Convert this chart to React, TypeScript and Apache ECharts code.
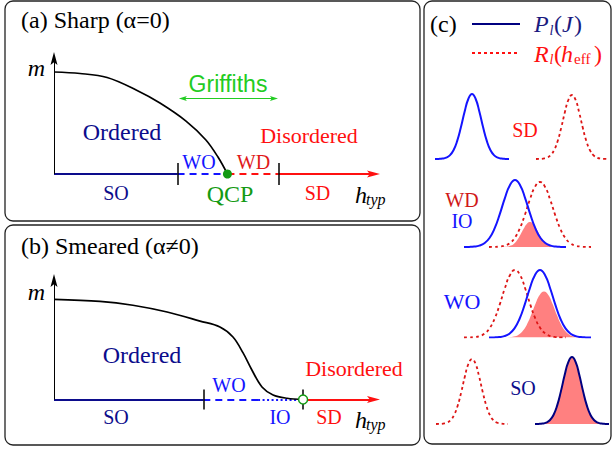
import React, { useEffect, useRef } from 'react';
import * as echarts from 'echarts';

// ---------- Data ----------
// Panel (a) sharp transition: order parameter m versus h_typ
const A_H = [0, 0.8, 1.63, 2.52, 3.25, 4.05, 4.66, 5.03, 5.32];
const A_M = [0.836, 0.824, 0.791, 0.689, 0.582, 0.434, 0.279, 0.139, 0];
const A_BOUNDS = [3.79, 5.32, 6.88]; // SO|WO tick, QCP, WD|SD tick
const A_GRIFFITHS = [3.83, 6.87];

// Panel (b) smeared transition
const B_H = [0, 1.41, 2.42, 3.47, 4.48, 5.09, 5.49, 5.8, 6.07, 6.38, 6.72, 7.15, 7.64];
const B_M = [0.798, 0.782, 0.751, 0.697, 0.625, 0.578, 0.498, 0.371, 0.235, 0.1, 0.036, 0.01, 0];
const B_BOUNDS = [4.58, 6.26, 7.64]; // SO|WO tick, dashed->dotted, IO|SD point

// Axis extents (arrow tips)
const H_MAX = 10;
const M_MAX = 1;

// Panel (c) distributions (shape, peak normalised to 1)
const PROFILE = [0.0003, 0.0015, 0.006, 0.02, 0.056, 0.135, 0.278, 0.487, 0.726, 0.923, 1,
  0.923, 0.726, 0.487, 0.278, 0.135, 0.056, 0.02, 0.006, 0.0015, 0.0003];
const C_ROWS = ['SD', 'WD/IO', 'WO', 'SO'];
const P_CENTER = [48, 91, 116, 148];
const P_HALF = [37, 51, 51, 37];
const P_PEAK = [65, 67, 67.5, 67];
const R_CENTER = [148, 116, 91, 48];
const R_HALF = [36, 51, 51, 36];
const R_PEAK = [64, 65, 67.5, 65];
const F_CENTER = [0, 106, 120, 148];
const F_HALF = [0, 32, 43, 37];
const F_PEAK = [0, 25, 46, 67];

// ---------- Styles / layout ----------
const SERIF = "'Liberation Serif', 'Times New Roman', serif";
const SANS = "'Liberation Sans', Arial, sans-serif";
const NAVY = '#0c0c8c';
const BLUE = '#1414ff';
const RED = '#ff1010';
const DRED = '#d01818';
const GREEN_L = '#22cc22';
const GREEN = '#139a13';
const FILL = '#ff8080';
const RDOT = '#dd1515';
const ROW_BASE = [159, 247, 337.5, 424];
const ARROW = 'path://M0,-7 L3.5,6 L0,3.2 L-3.5,6 Z';

function T(text: string, x: number, y: number, size: number, color: string, o: any = {}) {
  return {
    type: 'text', x, y, z: 20,
    style: {
      text, fontSize: size, fontFamily: o.font || SERIF, fill: color,
      align: o.align || 'center', verticalAlign: 'middle',
      fontStyle: o.italic ? 'italic' : 'normal',
    },
  };
}

function curve(i: number, c: number[], h: number[], p: number[]) {
  return PROFILE.map((v, k) => [c[i] + (h[i] * (k - 10)) / 10, p[i] * v]);
}

// arrow head (tip at point). dir: 'up' | 'right' | 'left'
function head(ai: number, x: number, y: number, dir: string, color: string, w: number, l: number) {
  const rot = dir === 'up' ? 0 : dir === 'right' ? -90 : 90;
  const off = dir === 'up' ? [0, l / 2] : dir === 'right' ? [-l / 2, 0] : [l / 2, 0];
  return {
    type: 'scatter', xAxisIndex: ai, yAxisIndex: ai, z: 12, silent: true,
    symbol: ARROW, symbolSize: [w, l], symbolRotate: rot, symbolOffset: off,
    itemStyle: { color, opacity: 1 }, data: [[x, y]],
  };
}

function buildOption() {
  const grids: any[] = [
    { left: 54, top: 52, width: 326, height: 146.4 },
    { left: 54, top: 274, width: 326, height: 150.6 },
  ];
  const xAxes: any[] = [
    { gridIndex: 0, type: 'value', min: 0, max: H_MAX, show: false },
    { gridIndex: 1, type: 'value', min: 0, max: H_MAX, show: false },
  ];
  const yAxes: any[] = [
    { gridIndex: 0, type: 'value', min: -0.2, max: M_MAX, show: false },
    { gridIndex: 1, type: 'value', min: -0.2, max: M_MAX, show: false },
  ];
  ROW_BASE.forEach((b, i) => {
    grids.push({ left: 424, top: b - 75, width: 189, height: 75 });
    xAxes.push({ gridIndex: i + 2, type: 'value', min: 0, max: 189, show: false });
    yAxes.push({ gridIndex: i + 2, type: 'value', min: 0, max: 75, show: false });
  });

  const series: any[] = [];
  const seg = (x1: number, y1: number, x2: number, y2: number, color: string, type: any = 'solid', width = 2) => ({
    coords: [[x1, y1], [x2, y2]], lineStyle: { color, type, width },
  });
  const segs = (ai: number, data: any[]) => ({
    type: 'lines', coordinateSystem: 'cartesian2d', xAxisIndex: ai, yAxisIndex: ai, z: 3,
    silent: true, lineStyle: { opacity: 1 }, data,
  });

  // ---- panel (a)
  series.push(segs(0, [
    seg(0, 0, A_BOUNDS[0], 0, NAVY),
    seg(A_BOUNDS[0], 0, A_BOUNDS[1], 0, BLUE, [7, 5]),
    seg(A_BOUNDS[1], 0, A_BOUNDS[2], 0, RED, [7, 5]),
    seg(A_BOUNDS[2], 0, H_MAX - 0.2, 0, RED),
    seg(0, 0, 0, M_MAX - 0.05, '#000'),
    seg(A_BOUNDS[0], -0.09, A_BOUNDS[0], 0.09, '#000', 'solid', 1.5),
    seg(A_BOUNDS[2], -0.09, A_BOUNDS[2], 0.09, '#000', 'solid', 1.5),
    seg(A_GRIFFITHS[0] + 0.15, 0.619, A_GRIFFITHS[1] - 0.15, 0.619, GREEN_L, 'solid', 1),
  ]));
  series.push(head(0, H_MAX, 0, 'right', RED, 7, 13));
  series.push(head(0, 0, M_MAX, 'up', '#000', 7, 13));
  series.push(head(0, A_GRIFFITHS[0], 0.619, 'left', GREEN_L, 5, 8));
  series.push(head(0, A_GRIFFITHS[1], 0.619, 'right', GREEN_L, 5, 8));
  series.push({
    type: 'line', xAxisIndex: 0, yAxisIndex: 0, data: A_H.map((h, i) => [h, A_M[i]]),
    smooth: 0.35, showSymbol: false, lineStyle: { color: '#000', width: 1.7 }, z: 5,
  });
  series.push({
    type: 'scatter', xAxisIndex: 0, yAxisIndex: 0, data: [[A_BOUNDS[1], 0]], symbolSize: 9,
    itemStyle: { color: GREEN, opacity: 1 }, z: 10,
  });

  // ---- panel (b)
  series.push(segs(1, [
    seg(0, 0, B_BOUNDS[0], 0, NAVY),
    seg(B_BOUNDS[0], 0, B_BOUNDS[1], 0, BLUE, [7, 5]),
    seg(B_BOUNDS[1], 0, B_BOUNDS[2], 0, BLUE, [2, 2.5]),
    seg(B_BOUNDS[2], 0, H_MAX - 0.2, 0, RED),
    seg(0, 0, 0, M_MAX - 0.05, '#000'),
    seg(B_BOUNDS[0], -0.08, B_BOUNDS[0], 0.08, '#000', 'solid', 1.5),
    seg(B_BOUNDS[2], -0.08, B_BOUNDS[2], 0.08, '#000', 'solid', 1.5),
  ]));
  series.push(head(1, H_MAX, 0, 'right', RED, 7, 13));
  series.push(head(1, 0, M_MAX, 'up', '#000', 7, 13));
  series.push({
    type: 'line', xAxisIndex: 1, yAxisIndex: 1, data: B_H.map((h, i) => [h, B_M[i]]),
    smooth: 0.35, showSymbol: false, lineStyle: { color: '#000', width: 1.7 }, z: 5,
  });
  series.push({
    type: 'scatter', xAxisIndex: 1, yAxisIndex: 1, data: [[B_BOUNDS[2], 0]], symbolSize: 9,
    itemStyle: { color: '#fff', borderColor: GREEN, borderWidth: 1.5, opacity: 1 }, z: 10,
  });

  // ---- panel (c)
  C_ROWS.forEach((row, i) => {
    const ai = i + 2;
    if (F_PEAK[i] > 0) {
      series.push({
        name: row + ' overlap', type: 'line', xAxisIndex: ai, yAxisIndex: ai,
        data: curve(i, F_CENTER, F_HALF, F_PEAK), smooth: true, showSymbol: false,
        lineStyle: { width: 0 }, areaStyle: { color: FILL, opacity: 1 }, z: 2,
      });
    }
    series.push({
      name: row + ' R', type: 'line', xAxisIndex: ai, yAxisIndex: ai,
      data: curve(i, R_CENTER, R_HALF, R_PEAK), smooth: true, showSymbol: false,
      lineStyle: { color: RDOT, width: 1.8, type: [3, 3] }, z: 3,
    });
    series.push({
      name: row + ' P', type: 'line', xAxisIndex: ai, yAxisIndex: ai,
      data: curve(i, P_CENTER, P_HALF, P_PEAK), smooth: true, showSymbol: false,
      lineStyle: { color: i === 3 ? '#000080' : BLUE, width: 2 }, z: 4,
    });
  });

  const border = (x: number, y: number, w: number, h: number) => ({
    type: 'rect', z: 1, shape: { x, y, width: w, height: h, r: 8 },
    style: { fill: 'none', stroke: '#222', lineWidth: 1.3 },
  });

  const graphic: any[] = [
    border(5, 1, 415, 220),
    border(5, 225, 415, 220),
    border(424, 1, 187, 443),
    // panel (a)
    T('(a) Sharp (α=0)', 21, 20, 24, '#000', { align: 'left' }),
    T('m', 36.5, 68, 24, '#000', { italic: true }),
    T('Griffiths', 228, 84, 23, GREEN_L, { font: SANS }),
    T('Ordered', 122, 132, 24, NAVY),
    T('Disordered', 309, 135, 22, RED),
    T('WO', 199, 162, 20, BLUE),
    T('WD', 253.5, 162, 20, '#e01a1a'),
    T('SO', 116, 193, 20, NAVY),
    T('QCP', 230, 194, 24, GREEN),
    T('SD', 317.5, 193, 20, RED),
    T('h', 355, 194.5, 24, '#000', { align: 'left', italic: true }),
    T('typ', 366, 199, 16, '#000', { align: 'left', italic: true }),
    // panel (b)
    T('(b) Smeared (α≠0)', 21, 246, 24, '#000', { align: 'left' }),
    T('m', 36.5, 292, 24, '#000', { italic: true }),
    T('Ordered', 142, 355, 24, NAVY),
    T('Disordered', 354, 368, 22, RED),
    T('WO', 229, 385, 20, BLUE),
    T('SO', 116, 417, 20, NAVY),
    T('IO', 280, 417, 20, BLUE),
    T('SD', 329, 417, 20, RED),
    T('h', 355, 420, 24, '#000', { align: 'left', italic: true }),
    T('typ', 366, 424, 16, '#000', { align: 'left', italic: true }),
    // panel (c)
    T('(c)', 430, 24, 24, '#000', { align: 'left' }),
    { type: 'line', z: 20, shape: { x1: 472, y1: 24, x2: 520, y2: 24 }, style: { stroke: '#000080', lineWidth: 2 } },
    { type: 'line', z: 20, shape: { x1: 472, y1: 53, x2: 520, y2: 53 }, style: { stroke: RED, lineWidth: 1.8, lineDash: [3, 3] } },
    T('P', 534, 24, 24, '#1a1a80', { align: 'left', italic: true }),
    T('l', 549.5, 30, 14, '#1a1a80', { align: 'left', italic: true }),
    T('(', 554, 24, 24, '#1a1a80', { align: 'left' }),
    T('J', 562, 24, 24, '#1a1a80', { align: 'left', italic: true }),
    T(')', 574, 24, 24, '#1a1a80', { align: 'left' }),
    T('R', 534, 53.5, 24, RED, { align: 'left', italic: true }),
    T('l', 549.5, 59.5, 14, RED, { align: 'left', italic: true }),
    T('(', 554, 53.5, 24, RED, { align: 'left' }),
    T('h', 561, 53.5, 24, RED, { align: 'left', italic: true }),
    T('eff', 574, 59, 15, RED, { align: 'left' }),
    T(')', 594, 53.5, 24, RED, { align: 'left' }),
    T('SD', 525, 130, 20, RED),
    T('WD', 462, 199.5, 20, DRED),
    T('IO', 462, 220.5, 20, BLUE),
    T('WO', 462, 301.5, 22, BLUE),
    T('SO', 523, 388, 20, NAVY),
  ];

  return {
    animation: false,
    backgroundColor: '#fff',
    grid: grids,
    xAxis: xAxes,
    yAxis: yAxes,
    series,
    graphic,
  };
}

export default function App() {
  const ref = useRef<HTMLDivElement>(null);
  useEffect(() => {
    if (!ref.current) return;
    const chart = echarts.init(ref.current, undefined, { renderer: 'svg' });
    chart.setOption(buildOption() as any);
    return () => chart.dispose();
  }, []);
  return (
    <div
      ref={ref}
      style={{ position: 'fixed', left: 0, top: 0, width: 613, height: 449, background: '#fff' }}
    />
  );
}
